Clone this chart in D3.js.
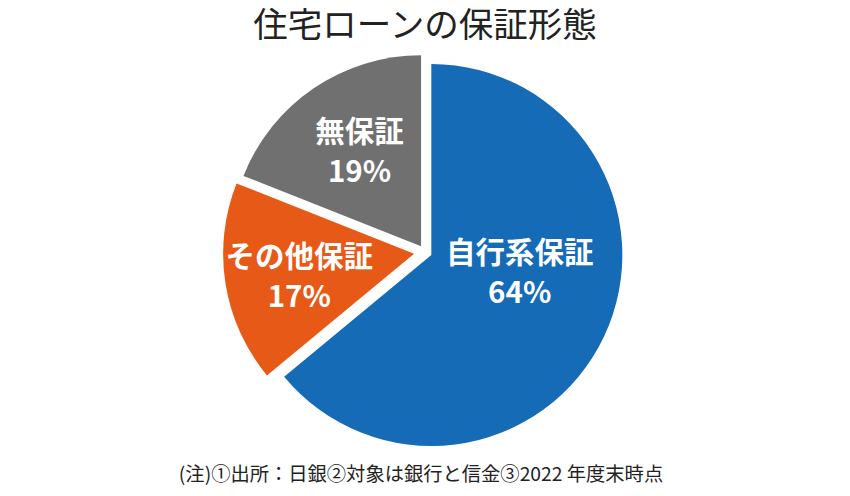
<!DOCTYPE html>
<html>
<head>
<meta charset="utf-8">
<script src="https://cdn.jsdelivr.net/npm/d3@7"></script>
<style>
  body { margin: 0; background: #fff; }
  svg { display: block; }
</style>
</head>
<body>
<div id="pie"></div>
<script>
const SVG_WIDTH = 850;
const SVG_HEIGHT = 496;
const CENTER = { X: 425, Y: 252 };
const RADIUS = 191;

// データ
const categories = ["自行系保証", "その他保証", "無保証"];
const values = [64, 17, 19];
const colors = ["#166bb6", "#e75916", "#717071"];

const titleText = "住宅ローンの保証形態";
const noteText = "(注)①出所：日銀②対象は銀行と信金③2022 年度末時点";

// 切り出し距離とラベル位置（半径, 角度）
const explode = [7, 11, 7];
const labelR = [90, 117, 113];
const labelAngle = [101, 259, 327]; // 度, 12時から時計回り

const svg = d3.select("#pie").append("svg")
    .attr("width", SVG_WIDTH)
    .attr("height", SVG_HEIGHT);

const pie = d3.pie().sort(null).value(d => d);
const arcs = pie(values);

const arc = d3.arc().innerRadius(0).outerRadius(RADIUS);

const g = svg.append("g")
    .attr("transform", `translate(${CENTER.X},${CENTER.Y})`);

const slice = g.selectAll(".slice")
    .data(arcs)
    .enter()
    .append("g")
    .attr("class", "slice")
    .attr("transform", (d, i) => {
        const mid = (d.startAngle + d.endAngle) / 2;
        return `translate(${Math.sin(mid) * explode[i]},${-Math.cos(mid) * explode[i]})`;
    });

slice.append("path")
    .attr("d", arc)
    .attr("fill", (d, i) => colors[i]);

// ラベル
const label = slice.append("text")
    .attr("text-anchor", "middle")
    .attr("fill", "#fff")
    .style("font-family", "'Noto Sans CJK JP', 'Noto Sans', sans-serif")
    .style("font-weight", "bold")
    .style("font-size", "29.5px")
    .attr("transform", (d, i) => {
        const a = labelAngle[i] * Math.PI / 180;
        return `translate(${Math.sin(a) * labelR[i]},${-Math.cos(a) * labelR[i]})`;
    });

label.append("tspan")
    .attr("x", 0)
    .attr("y", -9)
    .text((d, i) => categories[i]);

label.append("tspan")
    .attr("x", 0)
    .attr("y", 31)
    .text(d => d.data + "%");

// タイトル
svg.append("text")
    .attr("x", SVG_WIDTH / 2)
    .attr("y", 37)
    .attr("text-anchor", "middle")
    .attr("fill", "#222")
    .style("font-family", "'Noto Sans CJK JP', sans-serif")
    .style("font-size", "34.5px")
    .text(titleText);

// 注記
svg.append("text")
    .attr("x", 421)
    .attr("y", 481)
    .attr("text-anchor", "middle")
    .attr("fill", "#222")
    .style("font-family", "'Noto Sans CJK JP', sans-serif")
    .style("font-size", "19.3px")
    .text(noteText);
</script>
</body>
</html>
